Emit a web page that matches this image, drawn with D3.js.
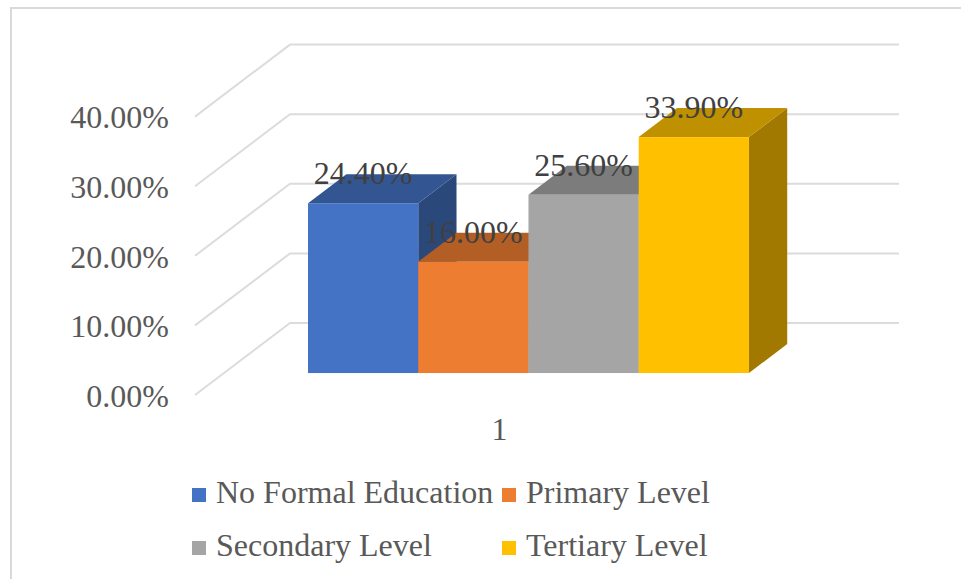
<!DOCTYPE html>
<html>
<head>
<meta charset="utf-8">
<script src="https://cdn.jsdelivr.net/npm/d3@7/dist/d3.min.js"></script>
<style>
  html, body { margin: 0; padding: 0; background: #fff; }
  svg { display: block; }
  text { font-family: "Liberation Serif", "Times New Roman", serif; }
</style>
</head>
<body>
<svg id="chart" width="961" height="579"></svg>
<script>
// ---- data ----
const categories = ["1"];
const series = ["No Formal Education", "Primary Level", "Secondary Level", "Tertiary Level"];
const values = [0.244, 0.160, 0.256, 0.339];
const colors = ["#4472c4", "#ed7d31", "#a5a5a5", "#ffc000"];
const yTicks = [0, 0.1, 0.2, 0.3, 0.4];

const svg = d3.select("#chart");
const FS = 32;

// frame (extends past the viewport, as in the reference crop)
svg.append("rect")
  .attr("x", 11).attr("y", 8).attr("width", 1000).attr("height", 700)
  .attr("fill", "#fff").attr("stroke", "#d9d9d9").attr("stroke-width", 2);

// 3D oblique projection: depth d in [0,1] shifts by (DX, -DY)
const DX = 95, DY = 72;
const y = d3.scaleLinear().domain([0, 0.4]).range([395, 116.6]); // front plane
const xCat = d3.scaleBand().domain(categories).range([195, 804]);
const P = (x, v, d) => [x + DX * d, y(v) - DY * d];

// gridlines: back wall + left side wall
const grid = svg.append("g").attr("fill", "none").attr("stroke", "#dcdcdc").attr("stroke-width", 2);
yTicks.forEach(t => {
  const a = P(xCat.range()[0], t, 0), b = P(xCat.range()[0], t, 1), c = P(xCat.range()[1], t, 1);
  grid.append("path").attr("d", d3.line()([a, b, c]));
});

// series band inside the category
const cx = xCat("1") + xCat.bandwidth() / 2;
const groupW = xCat.bandwidth() * 0.724;
const xS = d3.scaleBand().domain(series).range([cx - groupW / 2, cx + groupW / 2]);
const D0 = 0.305, D1 = 0.708;

const shade = (c, k) => { const r = d3.rgb(c); return d3.rgb(r.r * k, r.g * k, r.b * k).formatHex(); };
const bars = svg.append("g");
series.forEach((s, i) => {
  const v = values[i], x0 = xS(s), x1 = x0 + xS.bandwidth();
  const g = bars.append("g");
  // right side
  g.append("path").attr("fill", shade(colors[i], 0.63))
    .attr("d", d3.line()([P(x1, 0, D0), P(x1, 0, D1), P(x1, v, D1), P(x1, v, D0)]) + "Z");
  // top
  g.append("path").attr("fill", shade(colors[i], 0.75))
    .attr("d", d3.line()([P(x0, v, D0), P(x1, v, D0), P(x1, v, D1), P(x0, v, D1)]) + "Z");
  // front
  const f0 = P(x0, v, D0), f1 = P(x1, 0, D0);
  g.append("rect").attr("fill", colors[i])
    .attr("x", f0[0]).attr("y", f0[1]).attr("width", f1[0] - f0[0]).attr("height", f1[1] - f0[1]);
});

// data labels
series.forEach((s, i) => {
  const p = P(xS(s) + xS.bandwidth() / 2, values[i], D0);
  svg.append("text").attr("x", p[0]).attr("y", p[1] - 19)
    .attr("text-anchor", "middle").attr("font-size", FS).attr("fill", "#404040")
    .text(d3.format(".2%")(values[i]));
});

// y axis (front edge of side wall)
const yAxis = svg.append("g").attr("transform", "translate(195,0)")
  .call(d3.axisLeft(y).tickValues(yTicks).tickFormat(d3.format(".2%")).tickSize(0).tickPadding(26));
yAxis.select(".domain").remove();
yAxis.selectAll("text").attr("font-family", "Liberation Serif, Times New Roman, serif")
  .attr("font-size", FS).attr("fill", "#595959").attr("dy", "0.35em");

// category axis
const xAxis = svg.append("g").attr("transform", "translate(0,395)")
  .call(d3.axisBottom(xCat).tickSize(0).tickPadding(22));
xAxis.select(".domain").remove();
xAxis.selectAll("text").attr("font-family", "Liberation Serif, Times New Roman, serif")
  .attr("font-size", FS).attr("fill", "#595959").attr("dy", "0.71em");

// legend
const legendPos = [[192, 488], [502, 488], [192, 541], [502, 541]];
const lg = svg.append("g");
series.forEach((s, i) => {
  const [lx, ly] = legendPos[i];
  lg.append("rect").attr("x", lx).attr("y", ly).attr("width", 14).attr("height", 14).attr("fill", colors[i]);
  lg.append("text").attr("x", lx + 24).attr("y", ly + 15).attr("font-size", FS).attr("fill", "#595959").text(s);
});
</script>
</body>
</html>
